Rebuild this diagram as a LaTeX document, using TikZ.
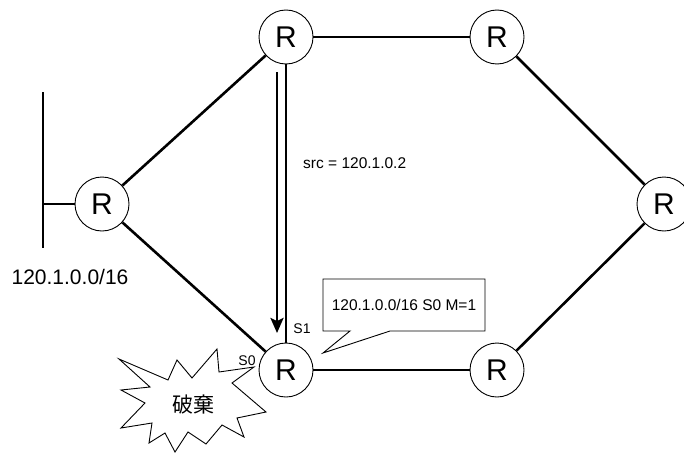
\documentclass[tikz,border=0pt]{standalone}
\usepackage{fontspec}
\setmainfont{Liberation Sans}
\newfontfamily\cjk{Noto Sans CJK JP}
\usetikzlibrary{arrows.meta,calc}
\tikzset{
  router/.style={circle,draw,line width=0.9pt,fill=white,minimum size=54pt,inner sep=0pt,font=\fontsize{30}{32}\selectfont},
  link/.style={line width=2.6pt},
  lbl/.style={inner sep=0pt,font=\fontsize{15.5}{17}\selectfont},
  small/.style={inner sep=0pt,font=\fontsize{14}{16}\selectfont},
  thinline/.style={line width=0.9pt}
}
\begin{document}
\begin{tikzpicture}[x=1pt,y=-1pt]
\useasboundingbox (0,0) rectangle (684,452);
% routers
\node[router] (rl) at (102,204) {R};
\node[router] (rt) at (286,37) {R};
\node[router] (rtr) at (497,37) {R};
\node[router] (rr) at (664,204) {R};
\node[router] (rb) at (286,370) {R};
\node[router] (rbr) at (497,370) {R};
% bus
\coordinate (busT) at (43,92);
\coordinate (busB) at (43,248);
\coordinate (busM) at (43,204);
\draw[link] (busT) -- (busB);
\draw[link] (busM) -- (rl);
% links
\draw[link] (rl) -- (rt);
\draw[link] (rl) -- (rb);
\draw[link] (rt) -- (rtr);
\draw[link] (rtr) -- (rr);
\draw[link] (rr) -- (rbr);
\draw[link] (rb) -- (rbr);
\draw[link] (rt.south) -- (rb.north);
% packet arrow
\coordinate (a1) at (277,72);
\coordinate (a2) at (277,333);
\draw[link,-{Stealth[length=15pt,width=13pt,inset=3pt]}] (a1) -- (a2);
% labels
\node[lbl,anchor=west] (src) at (303,163) {src = 120.1.0.2};
\node[inner sep=0pt,font=\fontsize{21}{23}\selectfont] (net) at (70,277) {120.1.0.0/16};
\node[small] (s1) at (302,329) {S1};
\node[small] (s0) at (247,361) {S0};
% callout
\draw[thinline,fill=white] (323,279) -- (485,279) -- (485,331) -- (390,331) -- (323,353) -- (350,331) -- (323,331) -- cycle;
\node[lbl] (tbl) at (404,305) {120.1.0.0/16 S0 M=1};
% starburst
\draw[thinline,fill=white] (119,359) -- (168,380) -- (177,360) -- (192,378) -- (217,349) -- (219,372) -- (254,367) -- (232,383) -- (266,412) -- (237,418) -- (244,437) -- (222,425) -- (206,444) -- (188,432) -- (175,452) -- (165,433) -- (149,443) -- (152,423) -- (121,428) -- (145,403) -- (121,390) -- (150,387) -- cycle;
\node[inner sep=0pt,font=\cjk\fontsize{21}{23}\selectfont] (drop) at (193,405) {破棄};
\end{tikzpicture}
\end{document}
